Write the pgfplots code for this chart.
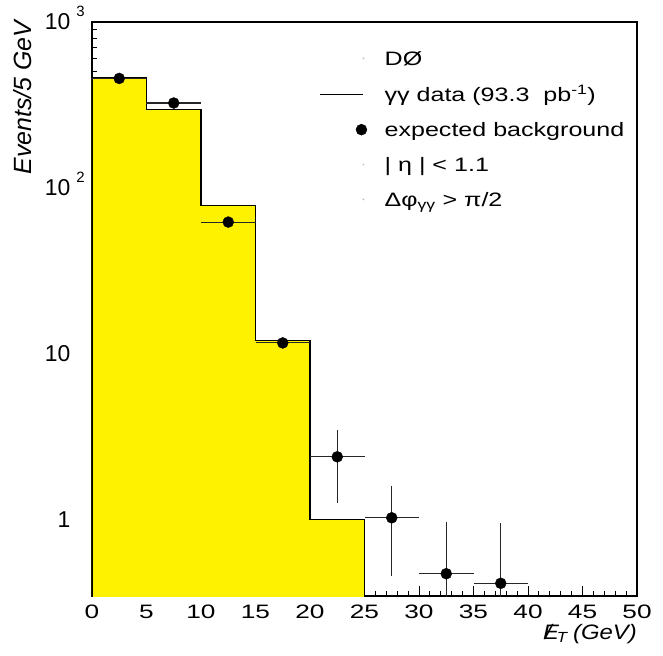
\documentclass[border=0pt]{standalone}
\usepackage{fontspec}
\setmainfont{Liberation Sans}
\newfontfamily\widefont{Liberation Sans}[FakeStretch=1.35]
\newfontfamily\legfont{Liberation Sans}[FakeStretch=1.29]
\newfontfamily\xlabfont{Liberation Sans}[FakeStretch=1.14]
\usepackage{pgfplots}
\pgfplotsset{compat=1.18}
\newcommand{\dec}[1]{10\rlap{\kern6bp\raisebox{13bp}[0pt][0pt]{\fontsize{15}{16}\selectfont #1}}}
\newcommand{\lf}{\legfont\fontsize{19.5}{22}\selectfont\rule[-6.6bp]{0pt}{22bp}}
\pgfplotstableread{
x    y     ex   eyp    eym
2.5  457   2.5  0      0
7.5  325   2.5  0      0
12.5 62.3  2.5  0      0
17.5 11.65 2.5  0      0
22.5 2.40  2.5  1.09   1.13
27.5 1.03  2.5  0.56   0.569
32.5 0.474 2.5  0.494  0.274
37.5 0.415 2.5  0.549  0.215
}\bkg
\begin{document}
\begin{tikzpicture}
\begin{axis}[
  scale only axis, width=545bp, height=574bp,
  xmin=0, xmax=50, ymode=log, ymin=0.348, ymax=1000,
  axis line style={line width=1.2bp},
  xtick={0,5,...,50}, minor x tick num=4,
  ytick={1,10,100,1000},
  yticklabels={1,10,\dec{2},\dec{3}},
  minor ytick={0.4,0.5,0.6,0.7,0.8,0.9,2,3,4,5,6,7,8,9,20,30,40,50,60,70,80,90,200,300,400,500,600,700,800,900},
  tick align=inside, xtick pos=bottom, ytick pos=left,
  major tick length=10.5bp, minor tick length=5bp,
  every tick/.style={black, line width=1bp},
  /pgf/number format/assume math mode=true,
  xticklabel style={font=\widefont\fontsize{19.5}{22}\selectfont, anchor=north, inner sep=0pt, yshift=-9bp},
  yticklabel style={font=\fontsize{23}{26}\selectfont, anchor=east, inner sep=0pt, xshift=-21.5bp},
  xlabel={\xlabfont\itshape\fontsize{21}{24}\selectfont \rlap{\kern0.1em/}E\kern-0.1em\textsubscript{T}\kern-0.05em{} (GeV)},
  xlabel style={at={(axis description cs:1,-0.076)}, anchor=base east, inner sep=0pt},
  ylabel={\itshape\fontsize{25}{28}\selectfont Events/5 GeV},
  ylabel style={at={(axis description cs:-0.1106,1.0026)}, anchor=base east, inner sep=0pt},
  legend style={draw=none, fill=none, at={(rel axis cs:0.4183,0.9547)}, anchor=north west,
    inner sep=0pt, outer sep=0pt, row sep=14bp, column sep=15.5bp},
  legend cell align=left,
]
\addplot[fill=yellow, draw=black, line width=1.1bp, const plot, forget plot]
  coordinates {(0,0.1) (0,463) (5,298) (10,78.9) (15,12.0) (20,1.0) (25,1.0) (25,0.1)};
\addplot[only marks, mark=*, mark size=5.5bp, black, forget plot,
  error bars/.cd, x dir=both, x explicit, y dir=both, y explicit, error mark=none,
  error bar style={line width=1.1bp, black!85}]
  table[x=x, y=y, x error=ex, y error plus=eyp, y error minus=eym] {\bkg};
\addlegendimage{legend image code/.code={\fill[gray!50] (1.517cm,0cm) circle (0.7bp);}}
\addlegendentry{\lf DØ}
\addlegendimage{legend image code/.code={\draw[black, line width=1bp] (0cm,0cm) -- (1.517cm,0cm);}}
\addlegendentry{\lf γγ data (93.3~ pb\textsuperscript{-1})}
\addlegendimage{legend image code/.code={\fill[black] (1.446cm,0cm) circle (5.5bp);}}
\addlegendentry{\lf expected background}
\addlegendimage{legend image code/.code={\fill[gray!50] (1.517cm,0cm) circle (0.7bp);}}
\addlegendentry{\lf | η | < 1.1}
\addlegendimage{legend image code/.code={\fill[gray!50] (1.517cm,0cm) circle (0.7bp);}}
\addlegendentry{\lf Δφ\textsubscript{γγ} > π/2}
\coordinate (sw) at (rel axis cs:0,0);
\coordinate (ne) at (rel axis cs:1,1);
\end{axis}
\pgfresetboundingbox
\path ([shift={(-92bp,-60bp)}]sw) rectangle ([shift={(26bp,22bp)}]ne);
\end{tikzpicture}
\end{document}
